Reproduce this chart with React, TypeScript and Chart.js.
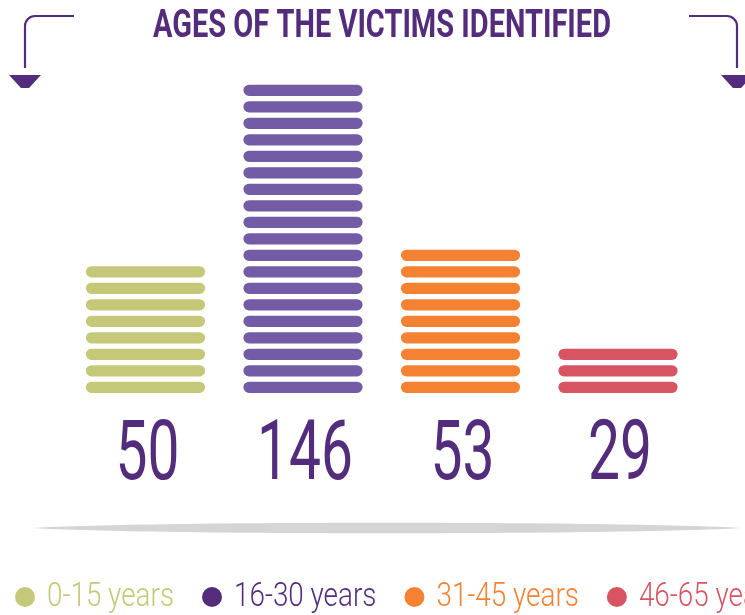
import React, { useEffect, useRef } from "react";
import { Chart, registerables } from "chart.js";

Chart.register(...registerables);

const title = "AGES OF THE VICTIMS IDENTIFIED";
const categories = ["0-15 years", "16-30 years", "31-45 years", "46-65 years"];
const values = [50, 146, 53, 29];
const stripeCounts = [8, 19, 9, 3];
const barColors = ["#c5c878", "#745ba5", "#f58233", "#d75462"];
const legendColors = ["#c5c878", "#532d7c", "#f58233", "#d75462"];
const darkPurple = "#532d7c";
const STRIPE = 0.685;

function condensed(
  ctx: CanvasRenderingContext2D,
  text: string,
  x: number,
  y: number,
  sx: number,
  align: CanvasTextAlign
) {
  ctx.save();
  ctx.translate(x, y);
  ctx.scale(sx, 1);
  ctx.textAlign = align;
  ctx.textBaseline = "alphabetic";
  ctx.fillText(text, 0, 0);
  ctx.restore();
}

const decorPlugin = {
  id: "decor",
  afterDraw(chart: any) {
    const ctx: CanvasRenderingContext2D = chart.ctx;
    ctx.save();

    // title
    ctx.fillStyle = darkPurple;
    ctx.font = "bold 38px Roboto";
    const tw = ctx.measureText(title).width;
    condensed(ctx, title, 153, 37, 458 / tw, "left");

    // brackets
    ctx.strokeStyle = darkPurple;
    ctx.lineWidth = 2.2;
    ctx.beginPath();
    ctx.moveTo(74, 16);
    ctx.arcTo(25, 16, 25, 30, 10);
    ctx.lineTo(25, 68);
    ctx.stroke();
    ctx.beginPath();
    ctx.moveTo(689, 16);
    ctx.arcTo(737, 16, 737, 30, 10);
    ctx.lineTo(737, 68);
    ctx.stroke();
    ctx.fillStyle = darkPurple;
    ctx.beginPath();
    ctx.moveTo(9, 75);
    ctx.lineTo(41, 75);
    ctx.lineTo(29, 88);
    ctx.lineTo(21, 88);
    ctx.closePath();
    ctx.fill();
    ctx.beginPath();
    ctx.moveTo(721, 75);
    ctx.lineTo(753, 75);
    ctx.lineTo(741, 88);
    ctx.lineTo(733, 88);
    ctx.closePath();
    ctx.fill();

    // value labels
    const xs = chart.scales.x;
    ctx.fillStyle = darkPurple;
    ctx.font = "400 84px Roboto";
    const dw = ctx.measureText("0").width;
    values.forEach((v, i) => {
      const x = xs.getPixelForValue(i) + 2;
      condensed(ctx, String(v), x, 479, 32 / dw, "center");
    });

    // shadow
    ctx.fillStyle = "#d4d5d5";
    ctx.beginPath();
    ctx.moveTo(32, 528);
    ctx.bezierCurveTo(150, 521, 620, 521, 742, 528);
    ctx.bezierCurveTo(620, 535, 150, 535, 32, 528);
    ctx.closePath();
    ctx.fill();

    // legend
    ctx.font = "300 33px Roboto";
    const lsx = 127 / ctx.measureText(categories[0]).width;
    let x = 15;
    categories.forEach((c, i) => {
      ctx.fillStyle = legendColors[i];
      ctx.beginPath();
      ctx.arc(x + 10, 597, 10, 0, Math.PI * 2);
      ctx.fill();
      const w = ctx.measureText(c).width * lsx;
      condensed(ctx, c, x + 32, 606, lsx, "left");
      x = x + 32 + w + 28;
    });

    ctx.restore();
  },
};

export default function App() {
  const ref = useRef<HTMLCanvasElement>(null);
  useEffect(() => {
    if (!ref.current) return;
    const maxStripes = Math.max(...stripeCounts);
    const datasets = [];
    for (let s = 0; s < maxStripes; s++) {
      datasets.push({
        label: "stripe " + (s + 1),
        data: stripeCounts.map((n) => (s < n ? [s, s + STRIPE] : null)),
        backgroundColor: barColors,
        borderRadius: 6,
        borderSkipped: false,
        grouped: false,
        barPercentage: 0.757,
        categoryPercentage: 1,
      });
    }
    const chart = new Chart(ref.current, {
      type: "bar",
      data: { labels: categories, datasets: datasets as any },
      options: {
        responsive: false,
        animation: false,
        devicePixelRatio: 1,
        layout: { padding: { left: 66.75, right: 48.25, top: 79.5, bottom: 222 } },
        scales: {
          x: { display: false },
          y: { display: false, min: 0, max: maxStripes },
        },
        plugins: { legend: { display: false }, tooltip: { enabled: false }, title: { display: false } },
      },
      plugins: [decorPlugin],
    });
    return () => chart.destroy();
  }, []);
  return (
    <div style={{ position: "absolute", left: 0, top: 0, width: 745, height: 615, background: "#fff" }}>
      <canvas ref={ref} width={745} height={615} style={{ display: "block" }} />
    </div>
  );
}
